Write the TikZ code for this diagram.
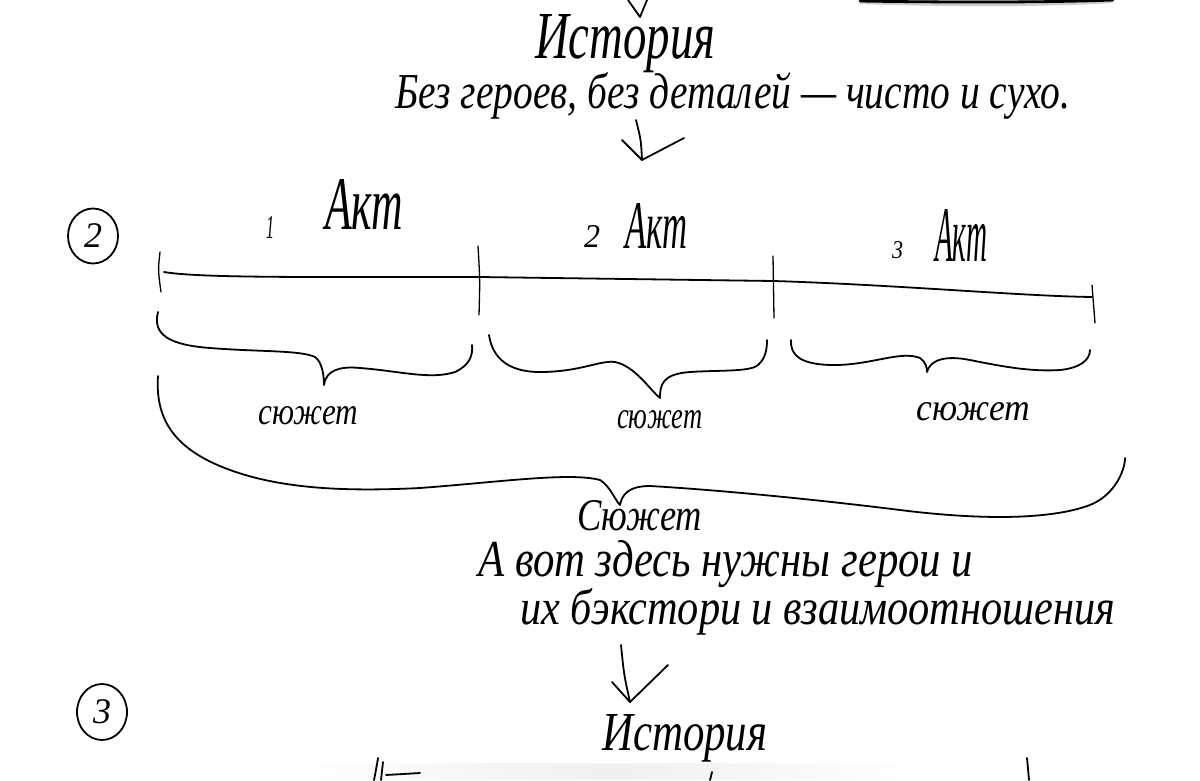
\documentclass[tikz,border=0pt]{standalone}
\usepackage{fontspec}
\setmainfont{Liberation Serif}
\usetikzlibrary{shapes.geometric}
\newcommand{\hwt}[3]{\resizebox{#1pt}{#2pt}{\itshape #3}}
\begin{document}
\begin{tikzpicture}[x=1pt,y=-1pt,
  pen/.style={line width=1.8pt, line cap=round, line join=round},
  hw/.style={inner sep=0pt, anchor=base west},
  num/.style={ellipse, draw, line width=1.8pt, inner sep=0pt, minimum width=50pt, minimum height=55pt, font=\itshape\fontsize{36}{36}\selectfont}]
\useasboundingbox (0,0) rectangle (1200,780);
\fill[white] (0,0) rectangle (1200,780);
% cut-off elements at top
\coordinate (topa) at (628,0);
\coordinate (topb) at (640,17);
\coordinate (topc) at (647,0);
\draw[pen] (topa) .. controls (634,8) .. (topb) -- (topc);
\coordinate (tl0) at (860,1);
\coordinate (tl1) at (1113,0);
\draw[gray!40, line width=6pt] (tl0) .. controls (950,4) and (1050,4) .. (tl1);
\draw[line width=2.8pt, line cap=round] (tl0) .. controls (950,2.5) and (1050,2.5) .. (tl1);
% title
\node[hw] (ist1) at (535,58) {\hwt{180}{44}{История}};
\node[hw] (line1) at (395,108) {\hwt{675}{36}{Без героев, без деталей — чисто и сухо.}};
% arrow 1
\coordinate (a1s) at (636,120);
\coordinate (a1t) at (642,160);
\draw[pen] (a1s) .. controls (641,140) .. (a1t);
\coordinate (a1l) at (622,140);
\coordinate (a1r) at (684,138);
\draw[pen] (a1l) -- (a1t) -- (a1r);
% circle 2
\node[num] (c2) at (93,236) {2};
% act labels
\node[hw] (n1) at (266,238) {\hwt{8}{22}{1}};
\node[hw] (akt1) at (325,229) {\hwt{78}{50}{Акт}};
\node[hw] (n2) at (584,247) {\hwt{16}{22}{2}};
\node[hw] (akt2) at (625,248) {\hwt{62}{45}{Акт}};
\node[hw] (n3) at (892,258) {\hwt{11}{17}{3}};
\node[hw] (akt3) at (935,261) {\hwt{52}{52}{Акт}};
% timeline
\coordinate (t0) at (164,272);
\coordinate (t1) at (479,277);
\coordinate (t2) at (774,281);
\coordinate (t3) at (1092,297);
\draw[pen] (t0) .. controls (200,278) and (300,277) .. (t1) -- (t2) .. controls (900,285) and (1020,296) .. (t3);
\draw[pen, line width=1.3pt] (160,252) .. controls (158,270) .. (161,292);
\draw[pen, line width=1.3pt] (478,246) .. controls (480,280) .. (479,315);
\draw[pen, line width=1.3pt] (773,256) -- (774,318);
\draw[pen, line width=1.3pt] (1092,285) -- (1095,323);
% small braces
\draw[pen] (158,312) .. controls (152,335) and (170,345) .. (210,348)
  .. controls (260,352) and (300,350) .. (315,357)
  .. controls (322,362) and (324,375) .. (324,385)
  .. controls (326,370) and (340,366) .. (360,368)
  .. controls (400,371) and (430,380) .. (455,372)
  .. controls (470,365) and (473,355) .. (472,345);
\draw[pen] (489,335) .. controls (492,355) and (505,372) .. (540,372)
  .. controls (580,372) and (600,360) .. (615,362)
  .. controls (635,366) and (650,390) .. (660,398)
  .. controls (660,385) and (662,374) .. (690,372)
  .. controls (720,370) and (750,372) .. (758,365)
  .. controls (766,358) and (767,348) .. (767,340);
\draw[pen] (791,340) .. controls (790,355) and (800,364) .. (830,365)
  .. controls (870,366) and (900,350) .. (920,358)
  .. controls (926,362) and (927,368) .. (927,372)
  .. controls (930,360) and (945,355) .. (970,360)
  .. controls (1000,366) and (1030,372) .. (1060,370)
  .. controls (1080,368) and (1090,360) .. (1090,350);
\node[hw] (sj1) at (258,424) {\hwt{100}{18}{сюжет}};
\node[hw] (sj2) at (617,428) {\hwt{85}{18}{сюжет}};
\node[hw] (sj3) at (916,420) {\hwt{114}{18}{сюжет}};
% big brace
\draw[pen] (158,376) .. controls (155,420) and (175,450) .. (230,470)
  .. controls (280,488) and (340,492) .. (420,488)
  .. controls (500,482) and (570,472) .. (600,480)
  .. controls (610,486) and (615,500) .. (620,505)
  .. controls (622,495) and (628,486) .. (650,486)
  .. controls (720,490) and (820,500) .. (900,510)
  .. controls (980,520) and (1050,520) .. (1090,505)
  .. controls (1115,495) and (1125,470) .. (1125,458);
\node[hw] (sjbig) at (577,530) {\hwt{125}{30}{Сюжет}};
\node[hw] (line2) at (478,576) {\hwt{495}{36}{А вот здесь нужны герои и}};
\node[hw] (line3) at (520,624) {\hwt{595}{36}{их бэкстори и взаимоотношения}};
% arrow 2
\coordinate (a2s) at (621,645);
\coordinate (a2t) at (630,702);
\draw[pen] (a2s) .. controls (624,675) .. (a2t);
\coordinate (a2l) at (612,682);
\coordinate (a2r) at (668,665);
\draw[pen] (a2l) -- (a2t) -- (a2r);
% circle 3
\node[num, minimum width=50pt, minimum height=56pt] (c3) at (102,712) {3};
\node[hw] (ist2) at (602,750) {\hwt{165}{36}{История}};
% cut-off bottom edge
\shade[left color=white, right color=white, middle color=gray!12] (290,766) .. controls (310,762) and (880,762) .. (930,766) -- (930,780) -- (290,780) -- cycle;
\coordinate (b1) at (378,758);
\coordinate (b2) at (374,780);
\draw[pen] (b1) .. controls (376,770) .. (b2);
\coordinate (b3) at (383,762);
\coordinate (b4) at (381,780);
\draw[pen] (b3) -- (b4);
\coordinate (b5) at (386,775);
\coordinate (b6) at (420,773);
\draw[pen] (b5) -- (b6);
\coordinate (b7) at (712,772);
\coordinate (b8) at (710,780);
\draw[pen] (b7) -- (b8);
\coordinate (b9) at (1027,758);
\coordinate (b10) at (1029,780);
\draw[pen] (b9) -- (b10);
\end{tikzpicture}
\end{document}
